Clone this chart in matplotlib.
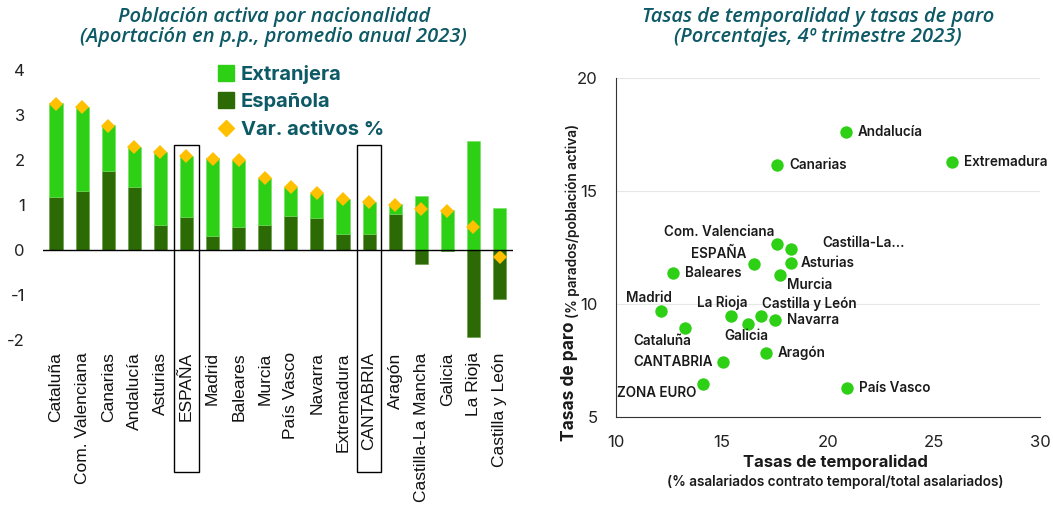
import matplotlib
matplotlib.use("Agg")
import matplotlib.pyplot as plt
from matplotlib.patches import Rectangle
from matplotlib.lines import Line2D
import numpy as np

plt.rcParams['axes.unicode_minus'] = False

# --- datos: aportación a la población activa (p.p.) ---
regiones = ['Cataluña', 'Com. Valenciana', 'Canarias', 'Andalucía', 'Asturias', 'ESPAÑA',
            'Madrid', 'Baleares', 'Murcia', 'País Vasco', 'Navarra', 'Extremadura',
            'CANTABRIA', 'Aragón', 'Castilla-La Mancha', 'Galicia', 'La Rioja', 'Castilla y León']
espanola = [1.18, 1.30, 1.76, 1.41, 0.56, 0.74, 0.31, 0.50, 0.56, 0.76, 0.70, 0.35,
            0.35, 0.81, -0.32, -0.02, -1.94, -1.10]
extranjera = [2.08, 1.89, 1.02, 0.89, 1.62, 1.35, 1.73, 1.50, 1.03, 0.65, 0.57, 0.78,
              0.72, 0.21, 1.21, 0.88, 2.43, 0.94]
var_activos = [3.24, 3.17, 2.76, 2.28, 2.18, 2.08, 2.03, 2.00, 1.59, 1.41, 1.27, 1.13,
               1.06, 1.01, 0.90, 0.86, 0.50, -0.15]
destacadas = ['ESPAÑA', 'CANTABRIA']

# --- datos: temporalidad vs paro ---
territorios = ['Andalucía', 'Extremadura', 'Canarias', 'Com. Valenciana', 'Castilla-La...',
               'Asturias', 'ESPAÑA', 'Murcia', 'Baleares', 'Madrid', 'La Rioja',
               'Castilla y León', 'Navarra', 'Galicia', 'Cataluña', 'Aragón', 'CANTABRIA',
               'ZONA EURO', 'País Vasco']
temporalidad = [20.85, 25.85, 17.6, 17.6, 18.25, 18.27, 16.52, 17.75, 12.72, 12.14, 15.42,
                16.84, 17.51, 16.23, 13.28, 17.09, 15.08, 14.1, 20.92]
paro = [17.6, 16.29, 16.17, 12.65, 12.44, 11.81, 11.76, 11.29, 11.36, 9.69, 9.48,
        9.48, 9.28, 9.13, 8.92, 7.81, 7.44, 6.45, 6.29]

verde_claro = '#2ed016'
verde_osc = '#2b6a04'
amarillo = '#ffc000'
teal = '#0d5a66'
tick_font = 'Liberation Sans'
lab_font = 'Inter'

fig = plt.figure(figsize=(10.53, 5.08), dpi=100)

# ---------------- left chart ----------------
ax1 = fig.add_axes([0.0408, 0.331, 0.446, 0.531])
x = np.arange(len(regiones))
esp = np.array(espanola)
ext = np.array(extranjera)
ax1.bar(x, esp, 0.5, color=verde_osc, edgecolor='#5c9a3a', linewidth=0.4, zorder=2)
ax1.bar(x, ext, 0.5, bottom=np.maximum(esp, 0), color=verde_claro, edgecolor='#6fe05a',
        linewidth=0.4, zorder=2)
ax1.plot(x, var_activos, 'D', color=amarillo, markersize=7.5, markeredgewidth=0, zorder=3)
ax1.axhline(0, color='black', lw=1, zorder=4)
ax1.set_xlim(-0.5, 17.5)
ax1.set_ylim(-2, 4)
ax1.set_yticks([-2, -1, 0, 1, 2, 3, 4])
ax1.set_xticks(x)
ax1.set_xticklabels(regiones, rotation=90, fontsize=12.5, family=tick_font, color='#111')
for lab in ax1.get_yticklabels():
    lab.set_family(lab_font)
ax1.tick_params(axis='y', length=0, pad=13, labelsize=12, labelcolor='#222')
ax1.tick_params(axis='x', length=0, pad=9)
for s in ax1.spines.values():
    s.set_visible(False)
for r in destacadas:
    i = regiones.index(r)
    ax1.add_patch(Rectangle((i - 0.47, -4.93), 0.94, 7.26, fill=False, ec='black',
                            lw=1, clip_on=False, zorder=5))

handles = [Line2D([], [], marker='s', ls='', color=verde_claro, markersize=12),
           Line2D([], [], marker='s', ls='', color=verde_osc, markersize=12),
           Line2D([], [], marker='D', ls='', color=amarillo, markersize=8)]
leg = ax1.legend(handles, ['Extranjera', 'Española', 'Var. activos %'], loc='upper left',
                 bbox_to_anchor=(0.335, 1.085), frameon=False, handlelength=0.8,
                 handletextpad=0.3, labelspacing=0.45,
                 prop={'family': lab_font, 'weight': 'bold', 'size': 14.5})
for t in leg.get_texts():
    t.set_color(teal)

fig.text(0.26, 0.987, 'Población activa por nacionalidad\n(Aportación en p.p., promedio anual 2023)',
         ha='center', va='top', fontsize=14.5, style='italic', weight='semibold', color=teal,
         family='Open Sans', linespacing=1.05)

# ---------------- right chart ----------------
ax2 = fig.add_axes([0.5847, 0.1797, 0.4030, 0.6662])
ax2.scatter(temporalidad, paro, s=80, color=verde_claro, zorder=3, linewidths=0)
ax2.set_xlim(10, 30)
ax2.set_ylim(5, 20)
ax2.set_xticks([10, 15, 20, 25, 30])
ax2.set_yticks([5, 10, 15, 20])
ax2.grid(axis='y', color='#e6e6e6', lw=0.8, zorder=0)
ax2.spines['top'].set_visible(False)
ax2.spines['right'].set_visible(False)
ax2.spines['left'].set_color('#333')
ax2.spines['bottom'].set_color('#333')
ax2.tick_params(length=0, labelsize=12, labelcolor='#222')
ax2.tick_params(axis='y', pad=13)
ax2.tick_params(axis='x', pad=13)
for lab in ax2.get_xticklabels() + ax2.get_yticklabels():
    lab.set_family(lab_font)

# label offsets in pixels: (dx, dy, ha)
offsets = {
    'Andalucía': (12, 0, 'left'), 'Extremadura': (12, 0, 'left'), 'Canarias': (12, 0, 'left'),
    'Com. Valenciana': (-3, 12, 'right'), 'Castilla-La...': (32, 6, 'left'),
    'Asturias': (10, 0, 'left'), 'ESPAÑA': (-8, 10, 'right'), 'Murcia': (7, -10, 'left'),
    'Baleares': (12, 0, 'left'), 'Madrid': (-12, 13, 'center'), 'La Rioja': (-8, 13, 'center'),
    'Castilla y León': (1, 12, 'left'), 'Navarra': (12, 0, 'left'), 'Galicia': (-2, -12, 'center'),
    'Cataluña': (-23, -13, 'center'), 'Aragón': (12, 0, 'left'), 'CANTABRIA': (-11, 0, 'right'),
    'ZONA EURO': (-6, -9, 'right'), 'País Vasco': (12, 0, 'left'),
}
for name, tx, py in zip(territorios, temporalidad, paro):
    dx, dy, ha = offsets[name]
    ax2.annotate(name, (tx, py), xytext=(dx, dy), textcoords='offset pixels', ha=ha,
                 va='center', fontsize=9.7, family=lab_font, weight='semibold', color='#1a1a1a')

fig.text(0.7934, 0.0910, 'Tasas de temporalidad', ha='center', va='center', fontsize=12,
         weight='bold', family=lab_font, color='#1a1a1a')
fig.text(0.7934, 0.0515, '(% asalariados contrato temporal/total asalariados)', ha='center',
         va='center', fontsize=9.8, weight='semibold', family=lab_font, color='#1a1a1a')
fig.text(0.541, 0.250, 'Tasas de paro', rotation=90, ha='center', va='center', fontsize=12.5,
         weight='bold', family=lab_font, color='#1a1a1a')
fig.text(0.5435, 0.565, '(% parados/población activa)', rotation=90, ha='center', va='center',
         fontsize=9.8, weight='semibold', family=lab_font, color='#1a1a1a')

fig.text(0.777, 0.987, 'Tasas de temporalidad y tasas de paro\n(Porcentajes, 4º trimestre 2023)',
         ha='center', va='top', fontsize=14.5, style='italic', weight='semibold', color=teal,
         family='Open Sans', linespacing=1.05)

fig.savefig('out.png', dpi=100)
